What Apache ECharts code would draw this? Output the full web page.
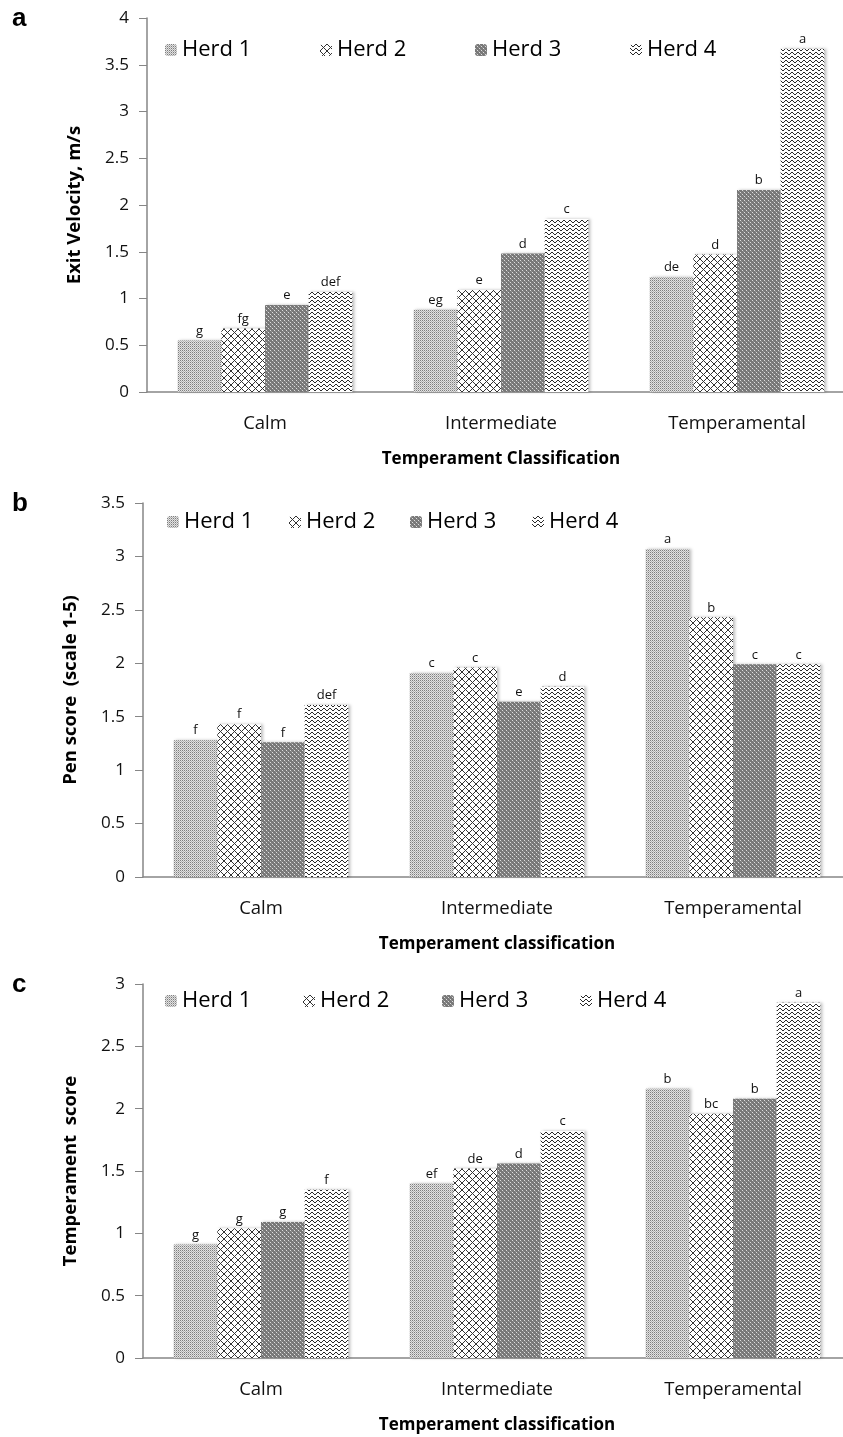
<!DOCTYPE html>
<html>
<head>
<meta charset="utf-8">
<script src="https://cdn.jsdelivr.net/npm/echarts@6/dist/echarts.min.js"></script>
<style>
html,body{margin:0;padding:0;background:#fff;overflow:hidden;}
#chart{width:870px;height:1437px;}
</style>
</head>
<body>
<div id="chart"></div>
<script>
// ---------- DATA ----------
const categories = ['Calm', 'Intermediate', 'Temperamental'];
const herds = ['Herd 1', 'Herd 2', 'Herd 3', 'Herd 4'];

// Panel a: Exit velocity (m/s), one array per herd over categories
const exitH1 = [0.55, 0.88, 1.23];
const exitH2 = [0.68, 1.09, 1.47];
const exitH3 = [0.93, 1.48, 2.16];
const exitH4 = [1.07, 1.85, 3.67];
const exitL1 = ['g', 'eg', 'de'];
const exitL2 = ['fg', 'e', 'd'];
const exitL3 = ['e', 'd', 'b'];
const exitL4 = ['def', 'c', 'a'];

// Panel b: Pen score
const penH1 = [1.28, 1.91, 3.07];
const penH2 = [1.43, 1.96, 2.43];
const penH3 = [1.26, 1.64, 1.99];
const penH4 = [1.61, 1.78, 1.99];
const penL1 = ['f', 'c', 'a'];
const penL2 = ['f', 'c', 'b'];
const penL3 = ['f', 'e', 'c'];
const penL4 = ['def', 'd', 'c'];

// Panel c: Temperament score
const tempH1 = [0.91, 1.40, 2.16];
const tempH2 = [1.04, 1.52, 1.96];
const tempH3 = [1.09, 1.56, 2.08];
const tempH4 = [1.35, 1.82, 2.85];
const tempL1 = ['g', 'ef', 'b'];
const tempL2 = ['g', 'de', 'bc'];
const tempL3 = ['g', 'd', 'b'];
const tempL4 = ['f', 'c', 'a'];

// ---------- PATTERNS ----------
function tile(w, h, draw) {
  const c = document.createElement('canvas');
  c.width = w; c.height = h;
  const ctx = c.getContext('2d');
  draw(ctx, w, h);
  return { image: c, repeat: 'repeat' };
}
function px(ctx, x, y, col) { ctx.fillStyle = col; ctx.fillRect(x, y, 1, 1); }

const pat1 = tile(2, 2, (ctx) => {
  ctx.fillStyle = '#e2e2e2'; ctx.fillRect(0, 0, 2, 2);
  px(ctx, 0, 0, '#7e7e7e'); px(ctx, 1, 1, '#b4b4b4');
});
const pat2 = tile(7, 7, (ctx) => {
  ctx.fillStyle = '#ffffff'; ctx.fillRect(0, 0, 7, 7);
  ctx.strokeStyle = '#333'; ctx.lineWidth = 1;
  ctx.beginPath();
  ctx.moveTo(-1, -1); ctx.lineTo(8, 8);
  ctx.moveTo(8, -1); ctx.lineTo(-1, 8);
  ctx.stroke();
});
const pat3 = tile(4, 4, (ctx) => {
  ctx.fillStyle = '#787878'; ctx.fillRect(0, 0, 4, 4);
  px(ctx, 0, 0, '#dedede'); px(ctx, 2, 2, '#dedede');
  px(ctx, 1, 1, '#959595'); px(ctx, 3, 3, '#959595');
});
const pat4 = tile(6, 4, (ctx) => {
  ctx.fillStyle = '#ffffff'; ctx.fillRect(0, 0, 6, 4);
  const dark = '#2a2a2a';
  px(ctx, 0, 0, dark); px(ctx, 1, 1, dark); px(ctx, 2, 2, dark);
  px(ctx, 3, 2, dark); px(ctx, 4, 1, dark); px(ctx, 5, 0, dark);
});
const patterns = [pat1, pat2, pat3, pat4];

// ---------- LAYOUT ----------
const FONT = 'Open Sans';
const panels = [
  { top: 18, left: 147, max: 4, yName: 'Exit Velocity, m/s', xName: 'Temperament Classification',
    values: [exitH1, exitH2, exitH3, exitH4], letters: [exitL1, exitL2, exitL3, exitL4],
    legendX: [183, 338, 493, 648], legendY: 49, tag: 'a' },
  { top: 503, left: 143, max: 3.5, yName: 'Pen score  (scale 1-5)', xName: 'Temperament classification',
    values: [penH1, penH2, penH3, penH4], letters: [penL1, penL2, penL3, penL4],
    legendX: [185, 307, 428, 550], legendY: 521, tag: 'b' },
  { top: 984, left: 143, max: 3, yName: 'Temperament  score', xName: 'Temperament classification',
    values: [tempH1, tempH2, tempH3, tempH4], letters: [tempL1, tempL2, tempL3, tempL4],
    legendX: [183, 321, 460, 598], legendY: 1000, tag: 'c' }
];

const grid = [], xAxis = [], yAxis = [], series = [], legend = [], graphic = [];
panels.forEach((p, i) => {
  grid.push({ left: p.left, width: 708, top: p.top, height: 374, containLabel: false });
  xAxis.push({
    type: 'category', gridIndex: i, data: categories,
    axisLine: { lineStyle: { color: '#868686', width: 1.5 } },
    axisTick: { show: false },
    axisLabel: { color: '#111', fontFamily: FONT, fontSize: 18.5, margin: 22 },
    name: p.xName, nameLocation: 'middle', nameGap: 59,
    nameTextStyle: { color: '#000', fontFamily: FONT, fontWeight: 'bold', fontSize: 17 }
  });
  yAxis.push({
    type: 'value', gridIndex: i, min: 0, max: p.max, interval: 0.5,
    axisLine: { show: true, lineStyle: { color: '#868686', width: 1.5 } },
    axisTick: { show: true, length: 8, lineStyle: { color: '#868686' } },
    splitLine: { show: false },
    axisLabel: { color: '#111', fontFamily: FONT, fontSize: 17, margin: 18 },
    name: p.yName, nameLocation: 'middle', nameGap: 63, nameRotate: 90,
    nameTextStyle: { color: '#000', fontFamily: FONT, fontWeight: 'bold', fontSize: 18.5 }
  });
  herds.forEach((h, k) => {
    const letters = p.letters[k];
    series.push({
      type: 'bar', name: h, xAxisIndex: i, yAxisIndex: i,
      data: p.values[k], barGap: '0%', barCategoryGap: '26%',
      itemStyle: { color: patterns[k], shadowColor: 'rgba(0,0,0,0.25)', shadowBlur: 3, shadowOffsetX: 2 },
      label: { show: true, position: 'top', distance: 3, color: '#111', fontFamily: FONT, fontSize: 13,
               formatter: (d) => letters[d.dataIndex] },
      emphasis: { disabled: true }
    });
    legend.push({
      data: [h], left: p.legendX[k] - 18, top: p.legendY - 10, padding: 0,
      itemWidth: 12, itemHeight: 12, itemGap: 0, selectedMode: false,
      textStyle: { color: '#000', fontFamily: FONT, fontSize: 22 }
    });
  });
  graphic.push({ type: 'text', left: 12, top: p.top - 12,
    style: { text: p.tag, fill: '#000', font: 'bold 26px "Liberation Sans"' } });
});

const chart = echarts.init(document.getElementById('chart'), null, { renderer: 'canvas' });
chart.setOption({ animation: false, grid, xAxis, yAxis, series, legend, graphic });
</script>
</body>
</html>
